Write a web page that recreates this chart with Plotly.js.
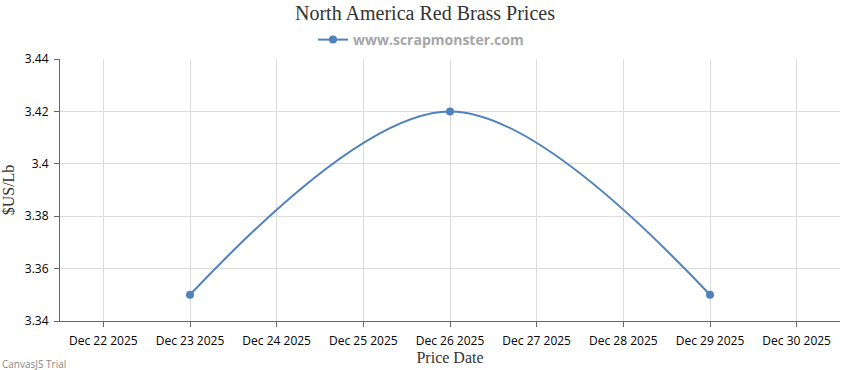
<!DOCTYPE html>
<html>
<head>
<meta charset="utf-8">
<script src="https://cdn.plot.ly/plotly-3.0.1.min.js"></script>
<style>
html,body{margin:0;padding:0;background:#fff;}
#chart{width:850px;height:370px;}
</style>
</head>
<body>
<div id="chart"></div>
<script>
const dates = ["2025-12-23", "2025-12-26", "2025-12-29"];
const prices = [3.35, 3.42, 3.35];
const tickDates = ["2025-12-22","2025-12-23","2025-12-24","2025-12-25","2025-12-26","2025-12-27","2025-12-28","2025-12-29","2025-12-30"];
const tickLabels = ["Dec 22 2025","Dec 23 2025","Dec 24 2025","Dec 25 2025","Dec 26 2025","Dec 27 2025","Dec 28 2025","Dec 29 2025","Dec 30 2025"];
const yTicks = [3.34, 3.36, 3.38, 3.4, 3.42, 3.44];
const yTickLabels = ["3.34","3.36","3.38","3.4","3.42","3.44"];
const seriesName = "www.scrapmonster.com";

const blue = "#4F81BC";
const trace = {
  x: dates, y: prices, type: "scatter", mode: "lines+markers",
  name: seriesName,
  line: {color: blue, width: 2, shape: "spline", smoothing: 1},
  marker: {color: blue, size: 8, symbol: "circle"},
  hoverinfo: "x+y"
};
const tickFont = {family: "Open Sans, sans-serif", size: 12, color: "#000"};
const layout = {
  width: 850, height: 370,
  margin: {l: 60, r: 10, t: 59, b: 49},
  paper_bgcolor: "#fff", plot_bgcolor: "#fff",
  title: {text: "North America Red Brass Prices", font: {family: "Liberation Serif, serif", size: 20, color: "#333"}, x: 0.5, xanchor: "center", y: 0.985, yanchor: "top"},
  showlegend: true,
  legend: {orientation: "h", xref: "container", x: 421/850, xanchor: "center", y: 1 - 40/370, yref: "container", yanchor: "middle", bgcolor: "rgba(0,0,0,0)",
    font: {family: "Open Sans, sans-serif", size: 14, color: "#a6a6a6", weight: "bold"}, itemwidth: 20},
  xaxis: {
    type: "date", range: ["2025-12-21 12:00", "2025-12-30 12:00"],
    tickvals: tickDates, ticktext: tickLabels, tickfont: tickFont,
    showgrid: true, gridcolor: "#dcdcdc", gridwidth: 1,
    showline: true, linecolor: "#666", linewidth: 1,
    ticks: "outside", ticklen: 5, tickcolor: "#666", ticklabelstandoff: 4,
    zeroline: false,
    title: {text: "Price Date", font: {family: "Liberation Serif, serif", size: 16, color: "#333"}, standoff: 2}
  },
  yaxis: {
    range: [3.34, 3.44], tickvals: yTicks, ticktext: yTickLabels, tickfont: tickFont,
    showgrid: true, gridcolor: "#dcdcdc", gridwidth: 1,
    showline: true, linecolor: "#666", linewidth: 1,
    ticks: "outside", ticklen: 5, tickcolor: "#666", ticklabelstandoff: 3,
    zeroline: false,
    title: {text: "$US/Lb", font: {family: "Liberation Serif, serif", size: 16, color: "#333"}, standoff: 6}
  },
  annotations: [{text: "CanvasJS Trial", xref: "paper", yref: "paper", x: -60/780, xanchor: "left", y: -52/262, yanchor: "bottom",
    showarrow: false, font: {family: "Open Sans, sans-serif", size: 10, color: "#888"}}]
};
Plotly.newPlot("chart", [trace], layout, {displayModeBar: false});
</script>
</body>
</html>
